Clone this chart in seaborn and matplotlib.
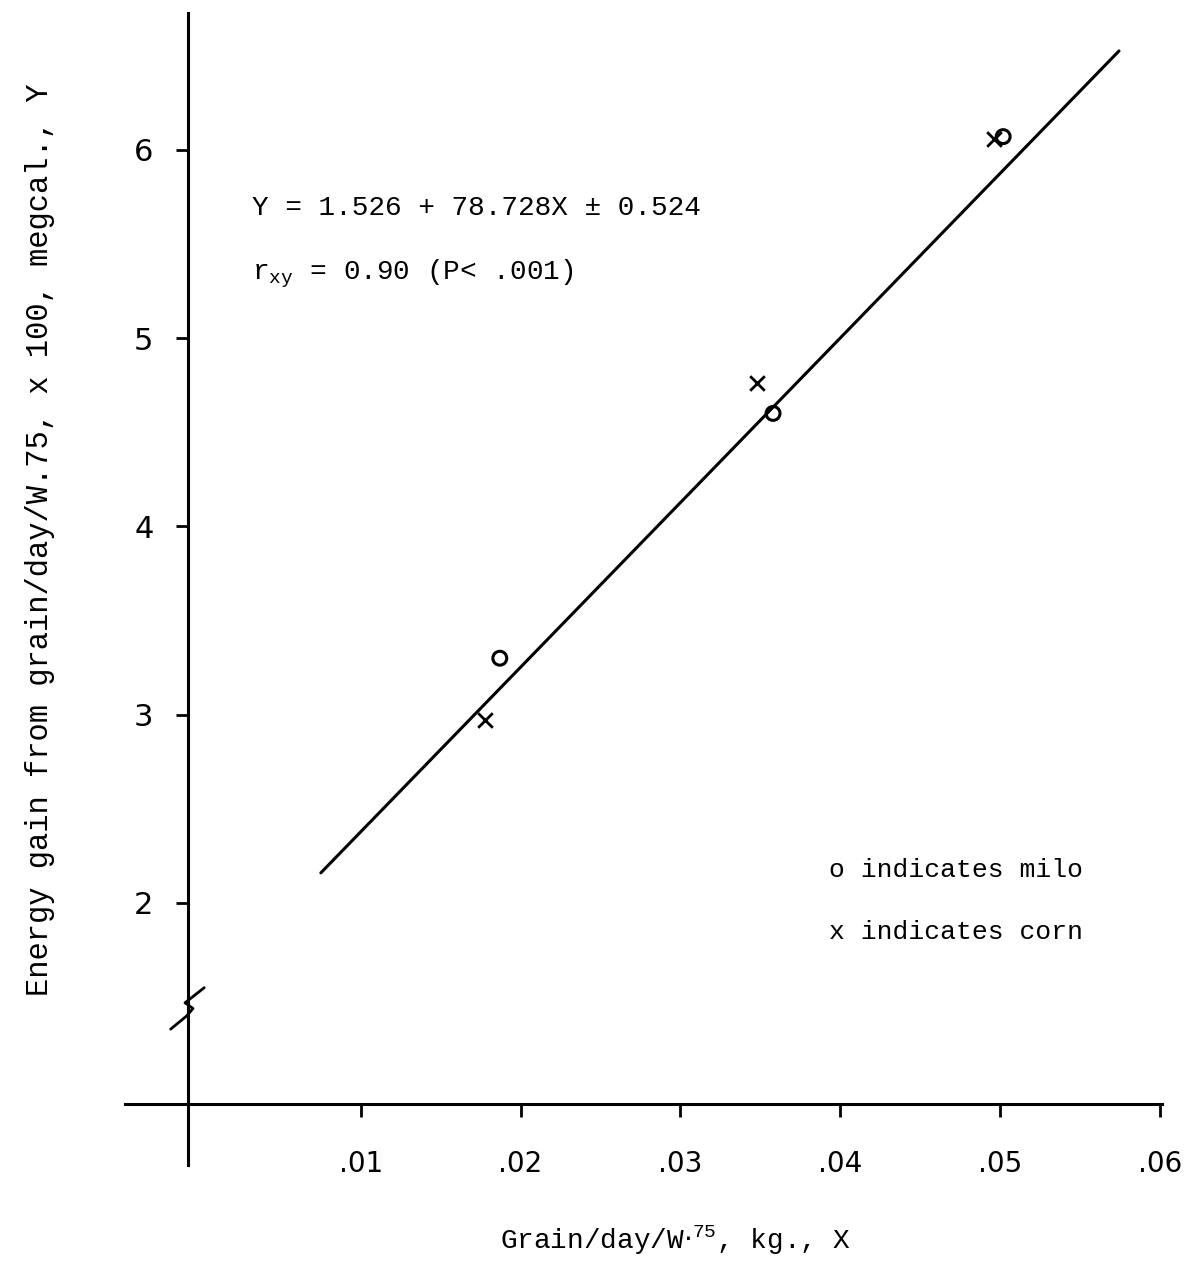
import numpy as np
import pandas as pd
import matplotlib
matplotlib.use('Agg')
import matplotlib.pyplot as plt
import seaborn as sns

# 読み取った値
milo_x = [0.0187, 0.0358, 0.0502]
milo_y = [3.30, 4.60, 6.07]
corn_x = [0.0178, 0.0348, 0.0496]
corn_y = [2.97, 4.76, 6.06]
line_x = [0.0075, 0.05745]
line_y = [2.16, 6.525]
x_ticks = [0.01, 0.02, 0.03, 0.04, 0.05, 0.06]
x_labels = ['.01', '.02', '.03', '.04', '.05', '.06']
y_ticks = [2, 3, 4, 5, 6]
y_labels = ['2', '3', '4', '5', '6']

sns.set_theme(style='white')
plt.rcParams['font.family'] = ['Liberation Mono', 'DejaVu Sans Mono']
plt.rcParams['text.color'] = 'black'

W, H = 1187, 1266
fig = plt.figure(figsize=(W / 100, H / 100), dpi=100)
ax = fig.add_axes([125 / W, 1 - 1165 / H, 1037 / W, 1152 / H])
ax.set_xlim(-0.004756, 0.06014)
ax.set_ylim(0.6086, 6.7265)

# 軸 (十字型)
for side in ['top', 'right']:
    ax.spines[side].set_visible(False)
ax.spines['left'].set_position(('data', -0.0008))
ax.spines['bottom'].set_position(('data', 0.933))
for side in ['left', 'bottom']:
    ax.spines[side].set_linewidth(2.2)
    ax.spines[side].set_color('black')

ax.set_xticks(x_ticks)
ax.set_xticklabels(x_labels)
ax.set_yticks(y_ticks)
ax.set_yticklabels(y_labels)
ax.tick_params(axis='x', direction='out', length=9, width=2, pad=24,
               labelsize=20, bottom=True, color='black', labelcolor='black')
ax.tick_params(axis='y', direction='out', length=9, width=2, pad=16,
               labelsize=22, left=True, color='black', labelcolor='black')
for lab in ax.get_xticklabels() + ax.get_yticklabels():
    lab.set_family('DejaVu Sans')

# 回帰直線と点
sns.lineplot(x=line_x, y=line_y, color='black', linewidth=2.2, ax=ax)
sns.scatterplot(x=milo_x, y=milo_y, marker='o', s=100, facecolor='none',
                edgecolor='black', linewidth=2.2, ax=ax)
sns.scatterplot(x=corn_x, y=corn_y, marker='x', s=110, color='black',
                linewidth=2.0, ax=ax)

# 軸の省略記号
bx = -0.0008
ax.plot([bx - 0.0011, bx - 0.0001, bx + 0.0003, bx - 0.0002, bx + 0.0010],
        [1.33, 1.40, 1.44, 1.47, 1.55], color='black', linewidth=2)

# 注記
ax.text(0.0032, 5.69, 'Y = 1.526 + 78.728X \u00b1 0.524', fontsize=20,
        va='center')
ax.text(0.0032, 5.34, r'r$_{\mathregular{xy}}$ = 0.90 (P< .001)', fontsize=20,
        va='center')
ax.text(0.0393, 2.175, 'o indicates milo', fontsize=19, va='center')
ax.text(0.0393, 1.846, 'x indicates corn', fontsize=19, va='center')

fig.text(40 / W, 1 - 540 / H, 'Energy gain from grain/day/W.75, x 100, megcal., Y',
         rotation=90, fontsize=22, ha='center', va='center')
fig.text(676 / W, 1 - 1240 / H, r'Grain/day/W$\cdot^{\mathregular{75}}$, kg., X',
         fontsize=20, ha='center', va='center')

fig.savefig('out.png', dpi=100)
